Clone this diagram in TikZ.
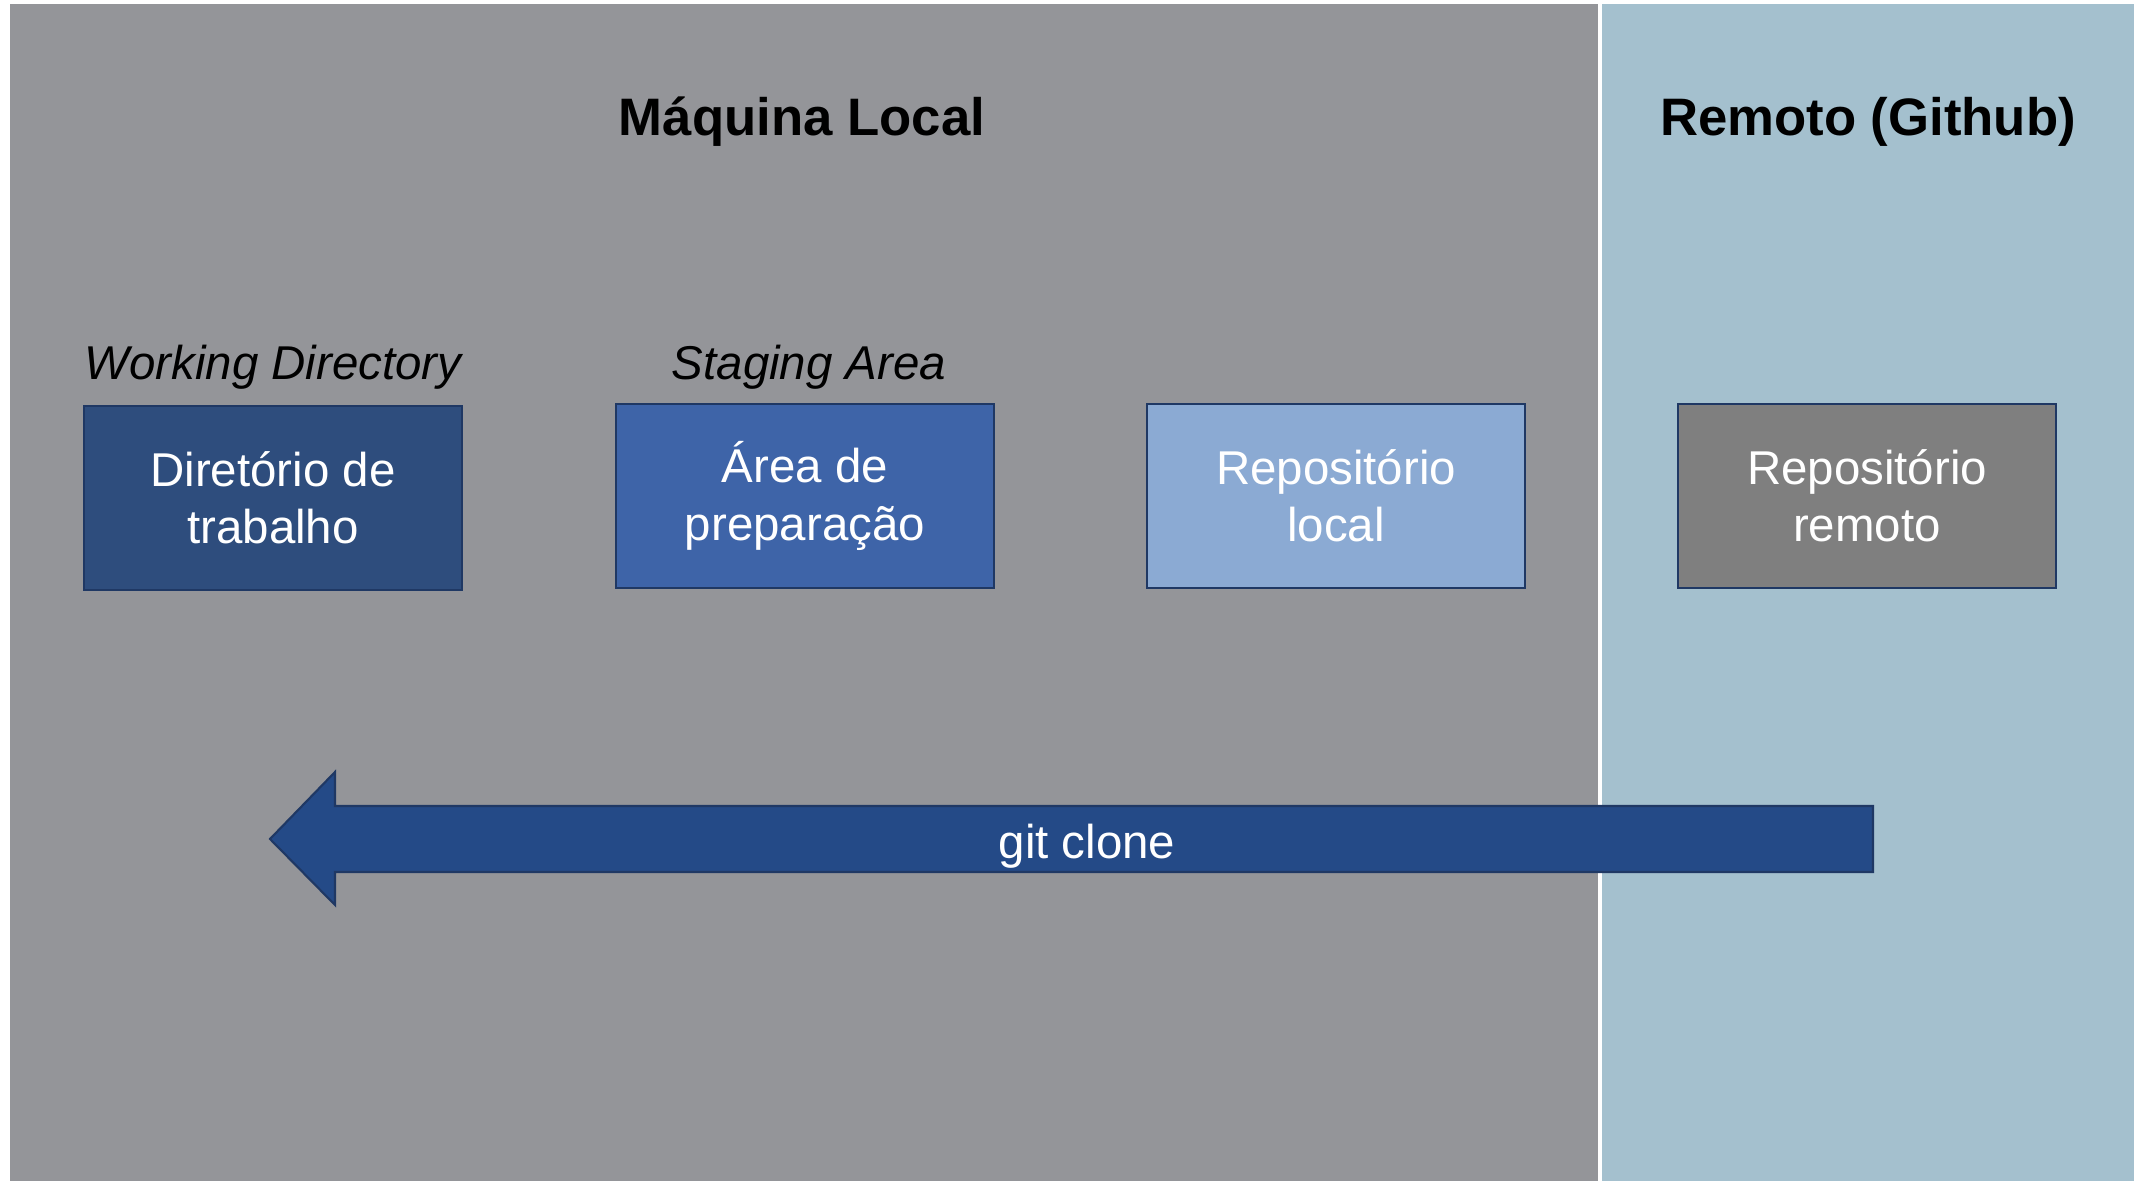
\documentclass[tikz,border=0pt]{standalone}
\usepackage{fontspec}
\setmainfont{Liberation Sans}
\definecolor{localbg}{RGB}{148,149,153}
\definecolor{remotebg}{RGB}{164,192,206}
\definecolor{wdfill}{RGB}{46,77,125}
\definecolor{stfill}{RGB}{62,100,168}
\definecolor{lrfill}{RGB}{139,170,211}
\definecolor{rrfill}{RGB}{127,127,127}
\definecolor{clonefill}{RGB}{36,74,135}
\definecolor{edge}{RGB}{31,56,100}
\begin{document}
\begin{tikzpicture}[x=1cm,y=1cm]
	\useasboundingbox(0,0)rectangle(21.38,11.84);
	\tikzset{title/.style={font=\fontsize{15}{18}\selectfont\bfseries},
		tag/.style={font=\fontsize{13.5}{16.3}\selectfont\itshape},
		stage/.style={draw=edge,line width=.6pt,rectangle,minimum width=3.78cm,minimum height=1.84cm,inner sep=0pt,align=center,text=white,font=\fontsize{13.5}{16.3}\selectfont}}
	\fill[localbg](.095,.03)rectangle(15.98,11.80);
	\fill[remotebg](16.02,.03)rectangle(21.34,11.80);
	\node(local)[title]at(8.02,10.62){Máquina Local};
	\node(remote)[title]at(18.68,10.62){Remoto (Github)};
	\node(wdtag)[tag]at(2.73,8.17){Working Directory};
	\node(sttag)[tag]at(8.09,8.17){Staging Area};
	\node(wd)[stage,fill=wdfill]at(2.73,6.86){Diretório de\\trabalho};
	\node(st)[stage,fill=stfill]at(8.05,6.88){Área de\\preparação};
	\node(lr)[stage,fill=lrfill]at(13.36,6.88){Repositório\\local};
	\node(rr)[stage,fill=rrfill]at(18.67,6.88){Repositório\\remoto};
	% block arrow
	\draw[draw=edge,line width=.6pt,fill=clonefill](18.73,3.78)--(3.35,3.78)--(3.35,4.12)--(2.70,3.45)--(3.35,2.79)--(3.35,3.12)--(18.73,3.12)--cycle;
	\node(clone)[text=white,font=\fontsize{13.5}{16.3}\selectfont]at(10.87,3.38){git clone};
\end{tikzpicture}
\end{document}
